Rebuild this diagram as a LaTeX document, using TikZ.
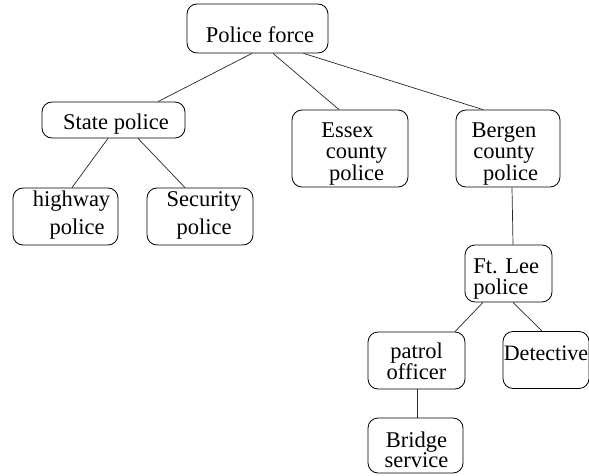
\documentclass[tikz,border=0pt]{standalone}
\usepackage{fontspec}
\setmainfont{Liberation Serif}
\newcommand\boxtext[5]{\raisebox{#1}[0pt][0pt]{\hspace*{#2}\def\arraystretch{#3}\begin{tabular}[t]{@{}#4@{}}#5\end{tabular}}}
\begin{document}
\begin{tikzpicture}[x=1pt,y=-1pt,
  box/.style={draw=black,line width=0.8pt,rounded corners=10pt,inner sep=0pt,
    font=\fontsize{22.5}{22.5}\selectfont},
  link/.style={draw=black!85,line width=0.7pt}]
\useasboundingbox (0,0) rectangle (589,476);
\node[box,minimum width=141pt,minimum height=49pt] (pf) at (257.5,28.5)
  {\boxtext{-14.5pt}{5pt}{1}{c}{Police force}};
\node[box,minimum width=143pt,minimum height=36pt] (sp) at (113.5,120)
  {\boxtext{-9.3pt}{5pt}{1}{c}{State police}};
\node[box,minimum width=116pt,minimum height=77pt] (es) at (350,148.5)
  {\boxtext{11pt}{13pt}{0.933}{c}{Essex\hspace*{18pt}\\county\\police}};
\node[box,minimum width=104pt,minimum height=77pt] (bg) at (508,148.5)
  {\boxtext{11pt}{-8pt}{0.933}{c}{Bergen\\county\\\hspace*{13pt}police}};
\node[box,minimum width=105pt,minimum height=57pt] (hw) at (65.5,216.5)
  {\boxtext{9.8pt}{12pt}{1.244}{c}{highway\\\hspace*{11pt}police}};
\node[box,minimum width=106pt,minimum height=57pt] (sc) at (200,216.5)
  {\boxtext{9.8pt}{8pt}{1.244}{c}{Security\\police}};
\node[box,minimum width=87pt,minimum height=57pt] (fl) at (508.5,273.5)
  {\boxtext{0.5pt}{-4.6pt}{0.889}{l}{Ft. Lee\\police}};
\node[box,minimum width=97pt,minimum height=57pt] (po) at (416.5,360.5)
  {\boxtext{2.5pt}{0pt}{0.889}{c}{patrol\\officer}};
\node[box,minimum width=86pt,minimum height=57pt,font=\fontsize{22}{22}\selectfont] (dt) at (546,360)
  {\boxtext{0pt}{0pt}{1}{c}{Detective}};
\node[box,minimum width=95pt,minimum height=55pt] (bs) at (415.5,445.5)
  {\boxtext{-1.5pt}{2pt}{0.844}{c}{Bridge\\service}};
\draw[link] ([xshift=-5.5pt]pf.south) -- ([xshift=44.5pt]sp.north);
\draw[link] ([xshift=15.5pt]pf.south) -- ([xshift=-11pt]es.north);
\draw[link] ([xshift=46pt]pf.south) -- ([xshift=-25pt]bg.north);
\draw[link] ([xshift=-5.5pt]sp.south) -- ([xshift=6.5pt]hw.north);
\draw[link] ([xshift=24.5pt]sp.south) -- ([xshift=-15pt]sc.north);
\draw[link] ([xshift=4pt]bg.south) -- ([xshift=4.5pt]fl.north);
\draw[link] ([xshift=-25.5pt]fl.south) -- ([xshift=38.5pt]po.north);
\draw[link] ([xshift=4.5pt]fl.south) -- ([xshift=-4pt]dt.north);
\draw[link] ([xshift=0.5pt]po.south) -- ([xshift=1.5pt]bs.north);
\end{tikzpicture}
\end{document}
